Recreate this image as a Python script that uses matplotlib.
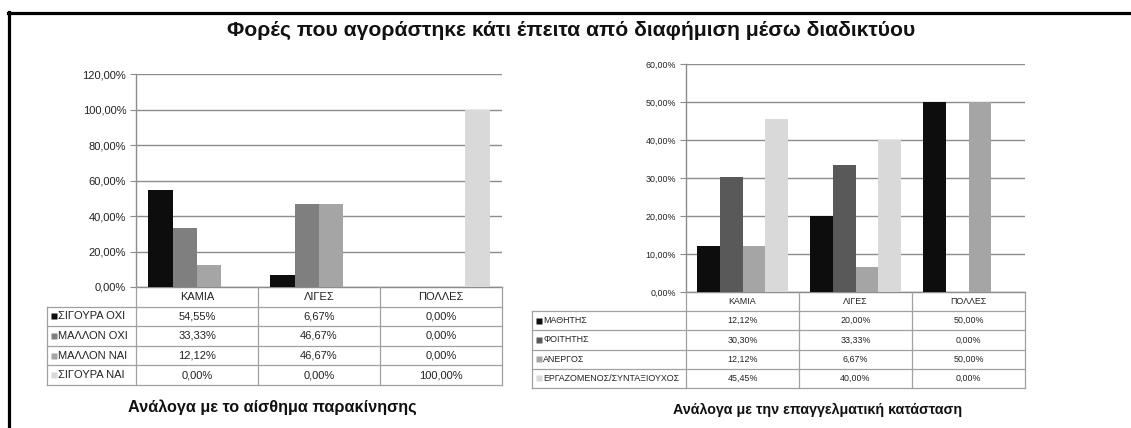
import numpy as np
import matplotlib
matplotlib.use('Agg')
import matplotlib.pyplot as plt
from matplotlib.lines import Line2D
from matplotlib.ticker import FuncFormatter

plt.rcParams['font.family'] = ['Liberation Sans', 'DejaVu Sans']

# --- data ---
categories = ['ΚΑΜΙΑ', 'ΛΙΓΕΣ', 'ΠΟΛΛΕΣ']

motive_labels = ['ΣΙΓΟΥΡΑ ΟΧΙ', 'ΜΑΛΛΟΝ ΟΧΙ', 'ΜΑΛΛΟΝ ΝΑΙ', 'ΣΙΓΟΥΡΑ ΝΑΙ']
motive_values = [
    [54.55, 6.67, 0.00],
    [33.33, 46.67, 0.00],
    [12.12, 46.67, 0.00],
    [0.00, 0.00, 100.00],
]

job_labels = ['ΜΑΘΗΤΗΣ', 'ΦΟΙΤΗΤΗΣ', 'ΑΝΕΡΓΟΣ', 'ΕΡΓΑΖΟΜΕΝΟΣ/ΣΥΝΤΑΞΙΟΥΧΟΣ']
job_values = [
    [12.12, 20.00, 50.00],
    [30.30, 33.33, 0.00],
    [12.12, 6.67, 50.00],
    [45.45, 40.00, 0.00],
]

motive_colors = ['#0d0d0d', '#7f7f7f', '#a5a5a5', '#d9d9d9']
job_colors = ['#0d0d0d', '#595959', '#a5a5a5', '#d9d9d9']

W, H = 1131, 428
fig = plt.figure(figsize=(W / 100, H / 100), dpi=100)
fig.patch.set_facecolor('white')


def box(x0, y0, x1, y1):
    # pixel box (top-left origin) -> figure fraction rect
    return [x0 / W, 1 - y1 / H, (x1 - x0) / W, (y1 - y0) / H]


def pct(v, _=None):
    return f'{v:.2f}'.replace('.', ',') + '%'


def draw_chart(bar_px, table_px, labels, values, colors, ymax, step, fs):
    grid_c = '#8c8c8c'
    line_c = '#a0a0a0'
    ax = fig.add_axes(box(*bar_px))
    n = len(values)
    x = np.arange(len(categories))
    w = 0.2
    for k in range(n):
        ax.bar(x + (k - (n - 1) / 2) * w, values[k], w, color=colors[k], linewidth=0, zorder=3)
    ax.set_xlim(-0.5, len(categories) - 0.5)
    ax.set_ylim(0, ymax)
    ax.set_yticks(np.arange(0, ymax + step / 2, step))
    ax.yaxis.set_major_formatter(FuncFormatter(pct))
    ax.set_xticks([])
    ax.yaxis.grid(True, color=grid_c, linewidth=1.0, zorder=0)
    ax.tick_params(axis='y', length=4, color=grid_c, labelsize=fs, pad=3, labelcolor='#222222')
    for s in ['top', 'right']:
        ax.spines[s].set_visible(False)
    for s in ['left', 'bottom']:
        ax.spines[s].set_color(grid_c)
        ax.spines[s].set_linewidth(1.0)

    # data table under the chart
    tx0, ty0, tx1, ty1 = table_px
    cat_px = (bar_px[2] - bar_px[0]) / len(categories)
    lc = (bar_px[0] - tx0) / cat_px
    left = -0.5 - lc
    right = len(categories) - 0.5
    tax = fig.add_axes(box(tx0, ty0, tx1, ty1))
    tax.set_xlim(left, right)
    tax.set_ylim(n + 1, 0)
    tax.axis('off')
    for r in range(1, n + 2):
        tax.plot([left, right], [r, r], color=line_c, lw=0.9, clip_on=False)
    tax.plot([left, left], [1, n + 1], color=line_c, lw=0.9, clip_on=False)
    for b in np.arange(-0.5, right + 0.01, 1.0):
        tax.plot([b, b], [0, n + 1], color=line_c, lw=0.9, clip_on=False)
    for i, c in enumerate(categories):
        tax.text(i, 0.5, c, ha='center', va='center', fontsize=fs, color='#222222')
    for k in range(n):
        yy = k + 1.5
        tax.plot([left + 7 / cat_px], [yy], marker='s', ms=fs * 0.62, color=colors[k],
                 mec='none', clip_on=False)
        tax.text(left + 11 / cat_px, yy, labels[k], ha='left', va='center', fontsize=fs, color='#222222')
        for i in range(len(categories)):
            tax.text(i, yy, pct(values[k][i]), ha='center', va='center', fontsize=fs, color='#222222')


draw_chart((136, 74, 502, 287), (47, 287, 502, 385), motive_labels, motive_values,
           motive_colors, 120, 20, 8)
draw_chart((686, 64, 1025, 292), (532, 292, 1025, 388), job_labels, job_values,
           job_colors, 60, 10, 6.4)

fig.text(571 / W, 1 - 30 / H, 'Φορές που αγοράστηκε κάτι έπειτα από διαφήμιση μέσω διαδικτύου',
         ha='center', va='center', fontsize=15.2, fontweight='bold', color='#111111')
fig.text(272 / W, 1 - 407 / H, 'Ανάλογα με το αίσθημα παρακίνησης',
         ha='center', va='center', fontsize=11.7, fontweight='bold', color='#111111')
fig.text(818 / W, 1 - 410 / H, 'Ανάλογα με την επαγγελματική κατάσταση',
         ha='center', va='center', fontsize=10.3, fontweight='bold', color='#111111')

# outer frame (top and left edges)
fig.add_artist(Line2D([8 / W, 1.0], [1 - 12.5 / H, 1 - 12.5 / H], color='black', lw=2.3,
                      transform=fig.transFigure))
fig.add_artist(Line2D([9 / W, 9 / W], [0, 1 - 11.5 / H], color='black', lw=2.3,
                      transform=fig.transFigure))

fig.savefig('out.png', dpi=100)
